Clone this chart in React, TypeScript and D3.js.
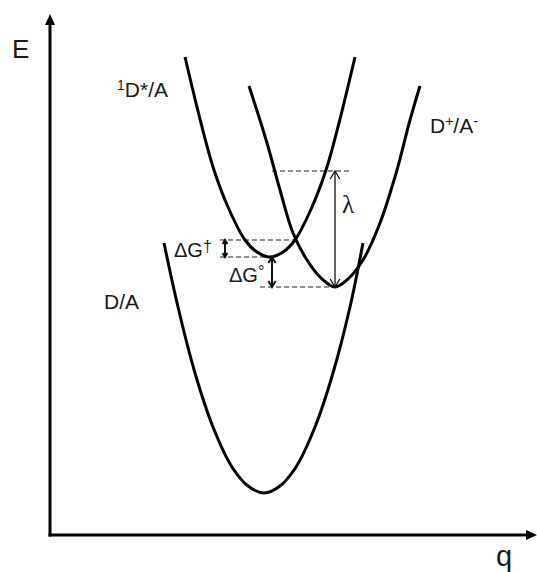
import { useEffect } from "react"
import * as d3 from "d3"

// q, E in arbitrary units
const groundCurve: [number, number][] = [
  [11.4, 29.2], [12.8, 22.8], [14.5, 16.2], [16.3, 10.8], [18.2, 6.8], [19.8, 4.9], [21.4, 4.2],
  [23.0, 4.9], [24.6, 6.8], [26.5, 10.8], [28.3, 16.2], [30.0, 22.8], [31.3, 29.2],
]
const excitedCurve: [number, number][] = [
  [13.5, 47.8], [15.1, 41.2], [16.4, 36.5], [17.8, 32.8], [19.5, 29.5], [20.7, 28.3], [22.0, 27.8],
  [23.3, 28.3], [24.5, 29.5], [26.2, 32.8], [27.6, 36.5], [28.9, 41.2], [30.5, 47.8],
]
const chargeSepCurve: [number, number][] = [
  [19.9, 44.9], [21.7, 39.2], [23.0, 34.5], [24.3, 30.2], [25.7, 27.5], [27.1, 25.7], [28.5, 24.8],
  [29.9, 25.7], [31.3, 27.5], [33.0, 31.2], [34.7, 36.5], [36.0, 41.5], [37.0, 44.9],
]

// dashed energy levels: [E, qStart, qEnd]
const levels: [number, number, number][] = [
  [36.4, 22.2, 30.0], // lambda
  [29.5, 17.0, 24.5], // crossing
  [27.8, 17.0, 22.0], // 1D*/A minimum
  [24.8, 21.0, 28.5], // D+/A- minimum
]

// double arrows: [q, Elow, Ehigh]
const lambdaArrow: [number, number, number] = [28.5, 24.8, 36.4]
const dG0Arrow: [number, number, number] = [22.2, 24.8, 27.8]
const dGdArrow: [number, number, number] = [17.5, 27.8, 29.5]

const W = 537
const H = 572

export default function App() {
  useEffect(() => {
    document.body.style.margin = "0"
  }, [])

  const x = d3.scaleLinear().domain([0, 48.7]).range([50, 537])
  const y = d3.scaleLinear().domain([0, 52.1]).range([535, 14])

  const line = d3
    .line<[number, number]>()
    .x((d) => x(d[0]))
    .y((d) => y(d[1]))
    .curve(d3.curveCatmullRom.alpha(0.5))

  const arrow = (a: [number, number, number], head: number, sw: number) => {
    const ax = x(a[0])
    const y0 = y(a[1])
    const y1 = y(a[2])
    const hw = head * 0.6
    return (
      <g stroke="#111" strokeWidth={sw} fill="none">
        <line x1={ax} x2={ax} y1={y0} y2={y1} />
        <path d={`M${ax - hw},${y1 + head}L${ax},${y1}L${ax + hw},${y1 + head}`} />
        <path d={`M${ax - hw},${y0 - head}L${ax},${y0}L${ax + hw},${y0 - head}`} />
      </g>
    )
  }

  const font = "'Liberation Sans', Arial, sans-serif"

  return (
    <svg width={W} height={H} style={{ display: "block", background: "#fff" }}>
      {/* axes */}
      <g stroke="#000" strokeWidth={3}>
        <line x1={x(0)} x2={x(0)} y1={y(0) + 1.5} y2={y(52.1) + 8} />
        <line x1={x(0) - 1.5} x2={x(48.7) - 8} y1={y(0)} y2={y(0)} />
      </g>
      <path d={`M${x(0) - 5},${y(52.1) + 11}L${x(0)},${y(52.1)}L${x(0) + 5},${y(52.1) + 11}Z`} fill="#000" />
      <path d={`M${x(48.7) - 11},${y(0) - 5}L${x(48.7)},${y(0)}L${x(48.7) - 11},${y(0) + 5}Z`} fill="#000" />

      {/* dashed levels */}
      <g stroke="#222" strokeWidth={1.2} strokeDasharray="5,3">
        {levels.map((l, i) => (
          <line key={i} x1={x(l[1])} x2={x(l[2])} y1={y(l[0])} y2={y(l[0])} />
        ))}
      </g>

      {/* curves */}
      <g fill="none" stroke="#000" strokeWidth={3}>
        <path d={line(groundCurve) || ""} />
        <path d={line(excitedCurve) || ""} />
        <path d={line(chargeSepCurve) || ""} />
      </g>

      {/* arrows */}
      {arrow(lambdaArrow, 8, 1.3)}
      {arrow(dG0Arrow, 6, 2)}
      {arrow(dGdArrow, 4, 2)}

      {/* labels */}
      <g fill="#1a1a1a" fontFamily={font}>
        <text x={12} y={58} fontSize={26}>E</text>
        <text x={496} y={566} fontSize={29}>q</text>
        <text x={117} y={97} fontSize={21}>
          <tspan fontSize={14} dy={-7}>1</tspan>
          <tspan dy={7}>D*/A</tspan>
        </text>
        <text x={430} y={133} fontSize={21}>
          D<tspan fontSize={14} dy={-7}>+</tspan>
          <tspan dy={7}>/A</tspan>
          <tspan fontSize={14} dy={-7}>-</tspan>
        </text>
        <text x={104} y={309} fontSize={21}>D/A</text>
        <text x={174} y={257} fontSize={20}>
          ΔG<tspan fontSize={16} dy={-5}>†</tspan>
        </text>
        <text x={229} y={282} fontSize={20}>
          ΔG<tspan fontSize={16} dy={-5}>°</tspan>
        </text>
        <text x={342} y={213} fontSize={25} fontFamily="'Liberation Serif', serif">λ</text>
      </g>
    </svg>
  )
}
